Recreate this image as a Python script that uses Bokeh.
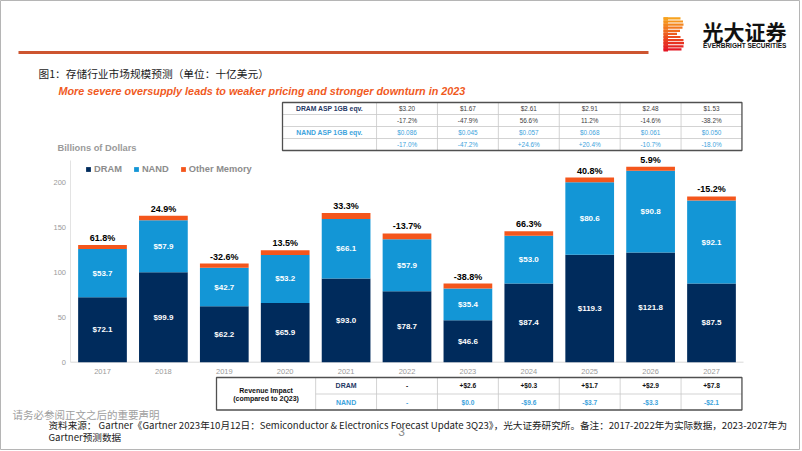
import numpy as np
from bokeh.plotting import figure
from bokeh.models import ColumnDataSource, Range1d, Legend, LegendItem
from bokeh.core.properties import value
from bokeh.embed import file_html
from bokeh.resources import INLINE

# ---------------- data ----------------
YEARS = ["2017", "2018", "2019", "2020", "2021", "2022", "2023", "2024", "2025", "2026", "2027"]
SERIES = ["DRAM", "NAND", "Other Memory"]
DRAM = [72.1, 99.9, 62.2, 65.9, 93.0, 78.7, 46.6, 87.4, 119.3, 121.8, 87.5]
NAND = [53.7, 57.9, 42.7, 53.2, 66.1, 57.9, 35.4, 53.0, 80.6, 90.8, 92.1]
OTHER = [4.4, 4.8, 4.7, 5.3, 6.7, 6.5, 5.4, 5.2, 5.2, 4.6, 4.6]
GROWTH = ["61.8%", "24.9%", "-32.6%", "13.5%", "33.3%", "-13.7%", "-38.8%",
          "66.3%", "40.8%", "5.9%", "-15.2%"]
Y_TICKS = [0, 50, 100, 150, 200]

TABLE_YEARS = ["2022", "2023", "2024", "2025", "2026", "2027"]
DRAM_ASP = [3.20, 1.67, 2.61, 2.91, 2.48, 1.53]
DRAM_ASP_CHG = [-17.2, -47.9, 56.6, 11.2, -14.6, -38.2]
NAND_ASP = [0.086, 0.045, 0.057, 0.068, 0.061, 0.050]
NAND_ASP_CHG = [-17.0, -47.2, 24.6, 20.4, -10.7, -18.0]
IMPACT_DRAM = [None, 2.6, 0.3, 1.7, 2.9, 7.8]
IMPACT_NAND = [None, 0.0, -9.6, -3.7, -3.3, -2.1]

# ---------------- style / layout ----------------
LATIN = "Liberation Sans"
CJK = "Noto Sans CJK SC"
NAVY = "#002B5C"
BLUE = "#1396D6"
ORANGE = "#F4561C"
GRAY_TXT = "#9A9A9A"
TBL_NAVY = "#1F3864"
TBL_BLUE = "#3DA3DC"

W, H = 800, 450
OX, OY = 0, 0                       # page offset of the figure
BAR0_PX, STEP_PX = 102.0, 60.9      # slide px of first bar centre, bar spacing
ZERO_PX, PX_PER_UNIT = 361.7, 0.9   # slide px of value 0, px per $bn


def xr(px):
    return (px - BAR0_PX) / STEP_PX


p = figure(width=W, height=H,
           x_range=Range1d(xr(OX), xr(OX + W)),
           y_range=Range1d((ZERO_PX - (OY + H)) / PX_PER_UNIT, (ZERO_PX - OY) / PX_PER_UNIT),
           output_backend="svg", toolbar_location=None,
           x_axis_location=None, y_axis_location=None, min_border=0)
p.extra_x_ranges = {"px": Range1d(OX, OX + W)}
p.extra_y_ranges = {"py": Range1d(OY + H, OY)}
p.grid.visible = False
p.outline_line_color = "#B5B5B5"
p.background_fill_color = "white"
p.border_fill_color = "white"


def txt(x, y, texts, size, color="#000000", font=LATIN, style="normal",
        align="center", baseline="middle", xn="default", yn="default", **kw):
    return p.text(x=x, y=y, text=texts, text_font=value(font), text_font_size=size,
                  text_color=color, text_font_style=style, text_align=align,
                  text_baseline=baseline, x_range_name=xn, y_range_name=yn, **kw)


# ---------------- slide header ----------------
p.segment(x0=[18], y0=[52], x1=[648], y1=[52], x_range_name="px", y_range_name="py",
          line_color="#CD5530", line_width=3)

# logo (striped "B" mark)
n_str = 11
ys = 16.8 + np.arange(n_str) * 3.1
rights = [680, 682.5, 683, 682, 679.5, 676.5, 680, 683, 683.5, 683, 681]
c0 = np.array([247, 162, 30])
c1 = np.array([228, 22, 34])
cols = ["#%02x%02x%02x" % tuple((c0 + (c1 - c0) * t).astype(int)) for t in np.linspace(0, 1, n_str)]
p.quad(left=[663] * n_str, right=rights, top=list(ys), bottom=list(ys + 2.2),
       x_range_name="px", y_range_name="py", fill_color=cols, line_color=None)
p.quad(left=[663] * n_str, right=[667.5] * n_str, top=list(ys), bottom=list(ys + 3.15),
       x_range_name="px", y_range_name="py", fill_color=cols, line_color=None)
txt([702], [30.5], ["光大证券"], "21px", "#111111", CJK, "bold", "left", xn="px", yn="py")
txt([702.5], [45], ["EVERBRIGHT SECURITIES"], "6.5px", "#111111", LATIN, "bold", "left", xn="px", yn="py")

txt([38], [73], ["图1：存储行业市场规模预测（单位：十亿美元）"], "10.7px", "#1A1A1A", CJK,
    "normal", "left", xn="px", yn="py")
txt([58], [90], ["More severe oversupply leads to weaker pricing and stronger downturn in 2023"],
    "10.8px", "#F05A1E", LATIN, "bold italic", "left", xn="px", yn="py")

# ---------------- top ASP table ----------------
T_LEFT, T_LAB = xr(282), 4.5
T_RIGHT = len(YEARS) - 0.5
T_ROWS = [102, 114, 126, 138, 150]
col_edges = [YEARS.index(y) - 0.5 for y in TABLE_YEARS[1:]] + [T_LAB]
p.segment(x0=col_edges, y0=[T_ROWS[0]] * len(col_edges), x1=col_edges, y1=[T_ROWS[-1]] * len(col_edges),
          y_range_name="py", line_color="#C8C8C8", line_width=0.8)
p.segment(x0=[T_LEFT] * 3, y0=T_ROWS[1:4], x1=[T_RIGHT] * 3, y1=T_ROWS[1:4],
          y_range_name="py", line_color="#C8C8C8", line_width=0.8)
p.quad(left=[T_LEFT], right=[T_RIGHT], top=[T_ROWS[0]], bottom=[T_ROWS[-1]], y_range_name="py",
       fill_color=None, line_color="#505050", line_width=1.3)

tcx = [YEARS.index(y) for y in TABLE_YEARS]
row_mid = [(a + b) / 2 for a, b in zip(T_ROWS[:-1], T_ROWS[1:])]
lab_x = (T_LEFT + T_LAB) / 2
txt([lab_x], [row_mid[0]], ["DRAM ASP 1GB eqv."], "6.8px", TBL_NAVY, LATIN, "bold", yn="py")
txt([lab_x], [row_mid[2]], ["NAND ASP 1GB eqv."], "6.8px", TBL_BLUE, LATIN, "bold", yn="py")
txt(tcx, [row_mid[0]] * 6, [f"${v:.2f}" for v in DRAM_ASP], "6.4px", "#404040", yn="py")
txt(tcx, [row_mid[1]] * 6, [f"{v:.1f}%" for v in DRAM_ASP_CHG], "6.4px", "#404040", yn="py")
txt(tcx, [row_mid[2]] * 6, [f"${v:.3f}" for v in NAND_ASP], "6.4px", TBL_BLUE, yn="py")
txt(tcx, [row_mid[3]] * 6, [f"{v:+.1f}%" for v in NAND_ASP_CHG], "6.4px", TBL_BLUE, yn="py")

# ---------------- bars ----------------
xi = list(range(len(YEARS)))
tot = [d + n + o for d, n, o in zip(DRAM, NAND, OTHER)]
src = ColumnDataSource(dict(x=xi, dram=DRAM, nand=NAND, other=OTHER))

# axis lines
p.segment(x0=[xr(70)], y0=[0], x1=[xr(743)], y1=[0], line_color="#D9D9D9", line_width=1)
p.segment(x0=[xr(70)], y0=[0], x1=[xr(70)], y1=[(ZERO_PX - 160) / PX_PER_UNIT],
          line_color="#E3E3E3", line_width=1)

bars = p.vbar_stack(["dram", "nand", "other"], x="x", width=0.8, source=src,
                    fill_color=[NAVY, BLUE, ORANGE], line_color=None)

txt(xi, [d / 2 for d in DRAM], [f"${v:.1f}" for v in DRAM], "8px", "white", LATIN, "bold")
txt(xi, [d + n / 2 for d, n in zip(DRAM, NAND)], [f"${v:.1f}" for v in NAND], "8px", "white", LATIN, "bold")
txt(xi, tot, GROWTH, "9px", "#000000", LATIN, "bold", baseline="bottom", y_offset=-2)

# tick labels
txt([65.5] * len(Y_TICKS), Y_TICKS, [str(t) for t in Y_TICKS], "7.5px", GRAY_TXT,
    align="right", xn="px")
txt(xi, [371] * len(YEARS), YEARS, "7.5px", GRAY_TXT, yn="py")
txt([57], [147], ["Billions of Dollars"], "9.3px", GRAY_TXT, LATIN, "bold", "left", xn="px", yn="py")

legend = Legend(items=[LegendItem(label=s, renderers=[r]) for s, r in zip(SERIES, bars)],
                location=(85, H - 174), orientation="horizontal",
                glyph_width=6, glyph_height=6, label_standoff=3, spacing=11,
                padding=0, margin=0, border_line_color=None, background_fill_alpha=0,
                label_height=9, label_text_font=LATIN, label_text_font_size="9.3px",
                label_text_font_style="bold", label_text_color="#8C8C8C")
p.add_layout(legend)

# ---------------- bottom revenue-impact table ----------------
B_LEFT, B_LAB, B_KEY = xr(216), 3.5, 4.5
B_ROWS = [377, 393.5, 409.5]
b_edges = [B_LAB, B_KEY] + [YEARS.index(y) + 0.5 for y in TABLE_YEARS[:-1]]
p.segment(x0=b_edges, y0=[B_ROWS[0]] * len(b_edges), x1=b_edges, y1=[B_ROWS[-1]] * len(b_edges),
          y_range_name="py", line_color="#C8C8C8", line_width=0.8)
p.segment(x0=[B_LAB], y0=[B_ROWS[1]], x1=[T_RIGHT], y1=[B_ROWS[1]],
          y_range_name="py", line_color="#C8C8C8", line_width=0.8)
p.quad(left=[B_LEFT], right=[T_RIGHT], top=[B_ROWS[0]], bottom=[B_ROWS[-1]], y_range_name="py",
       fill_color=None, line_color="#505050", line_width=1.3)


def money(v):
    if v is None:
        return "-"
    sign = "-" if v < 0 else ("+" if v > 0 else "")
    return f"{sign}${abs(v):.1f}"


b_mid = [(B_ROWS[0] + B_ROWS[1]) / 2, (B_ROWS[1] + B_ROWS[2]) / 2]
blab = (B_LEFT + B_LAB) / 2
txt([blab, blab], [389.5, 398], ["Revenue Impact", "(compared to 2Q23)"], "7px", "#111111",
    LATIN, "bold", yn="py")
txt([(B_LAB + B_KEY) / 2], [b_mid[0]], ["DRAM"], "7px", TBL_NAVY, LATIN, "bold", yn="py")
txt([(B_LAB + B_KEY) / 2], [b_mid[1]], ["NAND"], "7px", TBL_BLUE, LATIN, "bold", yn="py")
txt(tcx, [b_mid[0]] * 6, [money(v) for v in IMPACT_DRAM], "6.6px", "#111111", LATIN, "bold", yn="py")
txt(tcx, [b_mid[1]] * 6, [money(v) for v in IMPACT_NAND], "6.6px", TBL_BLUE, LATIN, "bold", yn="py")

# ---------------- footer ----------------
txt([12], [414], ["请务必参阅正文之后的重要声明"], "10.5px", "#9E9E9E", CJK, "normal", "left", xn="px", yn="py")
txt([48], [424.5], ["资料来源： Gartner《Gartner 2023年10月12日：Semiconductor & Electronics Forecast Update 3Q23》，"
                    "光大证券研究所。备注：2017-2022年为实际数据，2023-2027年为"],
    "9.6px", "#222222", CJK, "normal", "left", xn="px", yn="py")
txt([48], [436], ["Gartner预测数据"], "9.6px", "#222222", CJK, "normal", "left", xn="px", yn="py")
txt([401], [431], ["3"], "12px", "#8C8C8C", LATIN, "normal", xn="px", yn="py")

open("out.html", "w").write(file_html(p, INLINE, "chart"))
